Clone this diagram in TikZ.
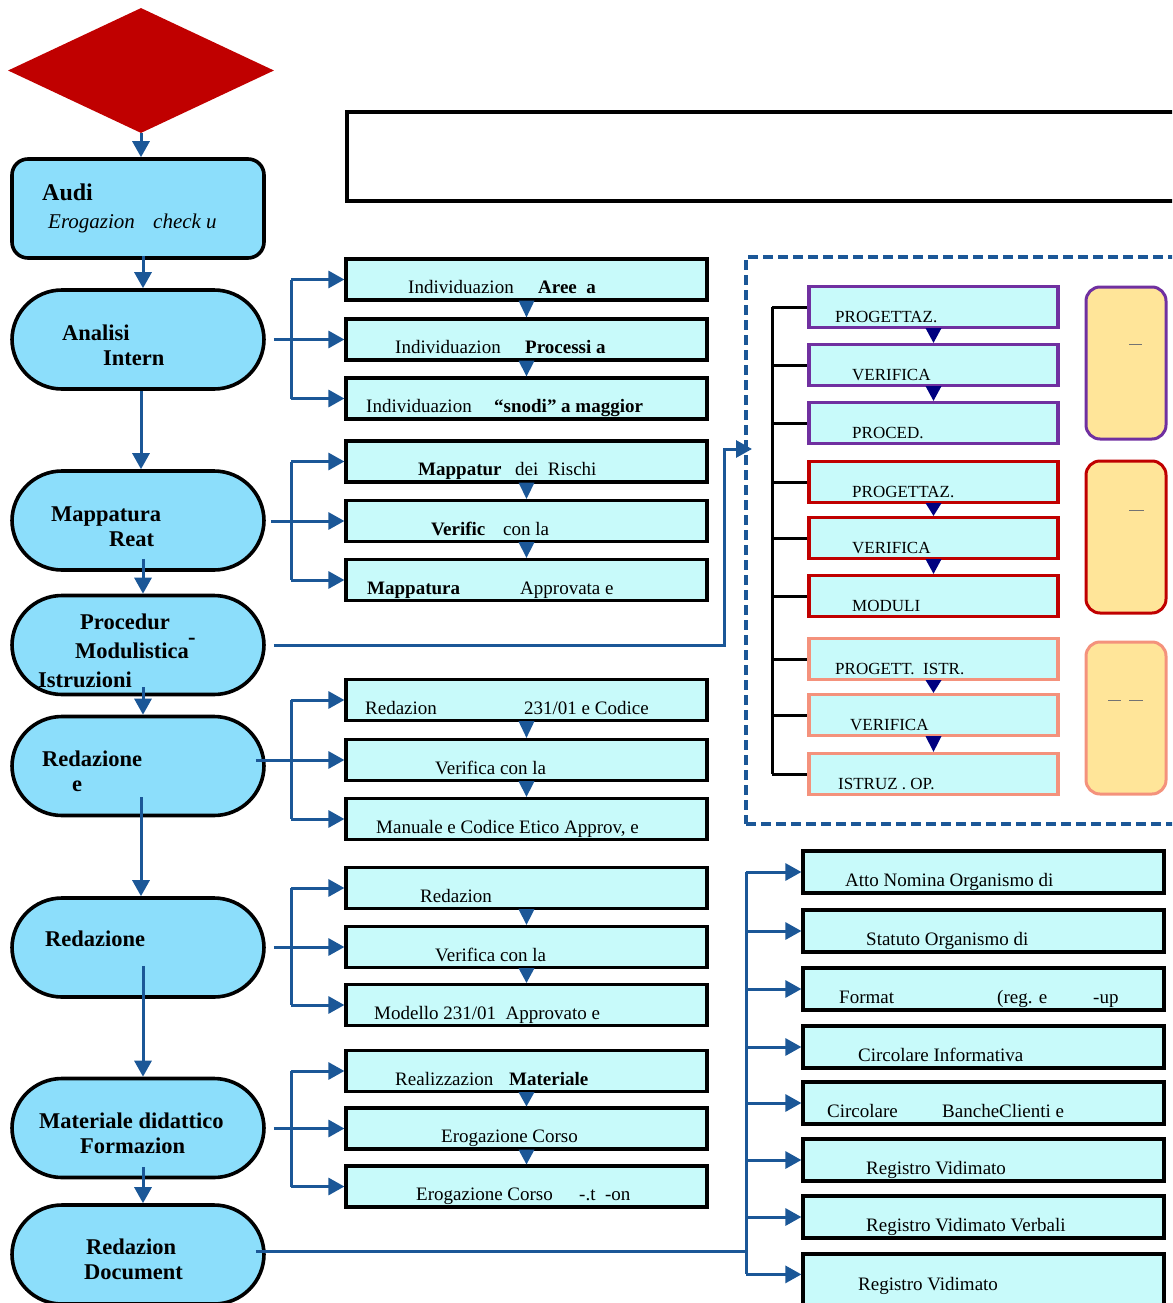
\documentclass[tikz,border=0pt]{standalone}
\usepackage{fontspec}
\setmainfont{Liberation Serif}
\usetikzlibrary{arrows.meta,positioning,calc,shapes.geometric}
\definecolor{ddRed}{HTML}{C00000}
\definecolor{ddSky}{HTML}{8CDEFB}
\definecolor{ddIce}{HTML}{C8FAFA}
\definecolor{ddBlue}{HTML}{1B5797}
\definecolor{ddNavy}{HTML}{000080}
\definecolor{ddPurple}{HTML}{7030A0}
\definecolor{ddSalmon}{HTML}{F4927C}
\definecolor{ddSand}{HTML}{FFE599}
\newcommand{\segbox}[2]{\makebox[#1][l]{#2}}
\tikzset{
  stage/.style    ={draw=black,line width=3.6pt,fill=ddSky,rounded corners=50pt,
                    minimum width=252pt,minimum height=99pt,inner sep=0pt},
  stagesq/.style  ={stage,rounded corners=16pt},
  midbox/.style   ={draw=black,line width=3.2pt,fill=ddIce,minimum width=361pt,
                    minimum height=41pt,inner sep=0pt},
  frbox/.style    ={midbox,draw=#1,minimum width=249pt},
  outbox/.style   ={midbox,minimum height=42pt},
  sandbox/.style  ={draw=#1,line width=3pt,fill=ddSand,rounded corners=14pt,
                    minimum width=80pt,minimum height=152pt,inner sep=0pt},
  frame/.style    ={draw=ddBlue,line width=4pt,dash pattern=on 10pt off 5pt},
  lbl/.style      ={anchor=base west,inner sep=0pt,font=\fontsize{19}{22}\selectfont},
  slbl/.style     ={lbl,font=\fontsize{17}{20}\selectfont},
  blbl/.style     ={lbl,font=\fontsize{22.5}{26}\selectfont\bfseries},
  flow/.style     ={-{Triangle[length=16pt,width=17pt]},ddBlue,line width=3pt},
  bus/.style      ={ddBlue,line width=3pt},
  drop/.style     ={fill=ddBlue},
  ndrop/.style    ={fill=ddNavy},
  tick/.style     ={black,line width=3pt},
  crumb/.style    ={black!55,line width=0.7pt},
}
\begin{document}
\begin{tikzpicture}[x=1pt,y=-1pt]
\useasboundingbox (0,0) rectangle (1172,1303);
\clip (0,0) rectangle (1172,1303);

% left column
\node[diamond,aspect=2.1,fill=ddRed,inner sep=0pt,minimum width=266pt,minimum height=125pt]
  (gate) at (141,70.5) {};
\node[stagesq] (audit)   at (138,208.5) {};
\node[stage]   (analisi) at (138,339.5) {};
\node[stage]   (mappa)   at (138,520.5) {};
\node[stage]   (proc)    at (138,645)   {};
\node[stage]   (redcod)  at (138,766)   {};
\node[stage]   (redmod)  at (138,947.5) {};
\node[stage]   (formaz)  at (138,1128)  {};
\node[stage]   (docum)   at (138,1254.5){};

\node[blbl,font=\fontsize{24}{28}\selectfont\bfseries] (auditA) at (42,200) {Audi};
\node[lbl,font=\fontsize{21}{24}\selectfont\itshape] (auditB) at (48,228)
  {\segbox{105pt}{Erogazion}check u};
\node[blbl] (analisiA) at (62,340)  {Analisi};
\node[blbl] (analisiB) at (103,365) {Intern};
\node[blbl] (mappaA)   at (51,521)  {Mappatura};
\node[blbl] (mappaB)   at (109,546) {Reat};
\node[blbl] (procA)    at (80,629)  {Procedur};
\node[blbl] (procB)    at (75,658)  {Modulistica};
\node[blbl] (procC)    at (188,644) {-};
\node[blbl] (procD)    at (38,687)  {Istruzioni};
\node[blbl] (redcodA)  at (42,766)  {Redazione};
\node[blbl] (redcodB)  at (72,791)  {e};
\node[blbl] (redmodA)  at (45,946)  {Redazione};
\node[blbl] (formazA)  at (39,1128) {Materiale didattico};
\node[blbl] (formazB)  at (80,1153) {Formazion};
\node[blbl] (documA)   at (86,1254) {Redazion};
\node[blbl] (documB)   at (84,1279) {Document};

\draw[flow] (gate.south) -- (audit.north -| gate.south);
\draw[flow] ($(audit.south)+(5,-4)$)   -- ($(analisi.north)+(5,0)$);
\draw[flow] ($(analisi.south)+(3,0)$)  -- ($(mappa.north)+(3,0)$);
\draw[flow] ($(mappa.south)+(5,-13)$)  -- ($(proc.north)+(5,0)$);
\draw[flow] ($(proc.south)+(5,-9)$)    -- ($(redcod.north)+(5,0)$);
\draw[flow] ($(redcod.south)+(3,-20)$) -- ($(redmod.north)+(3,0)$);
\draw[flow] ($(redmod.south)+(5,-33)$) -- ($(formaz.north)+(5,0)$);
\draw[flow] ($(formaz.south)+(5,-12)$) -- ($(docum.north)+(5,0)$);

% middle column
\foreach \n/\y in {i1/279.5,i2/339.5,i3/398.5,m1/461.5,m2/521,m3/580,
                   r1/700,r2/760,r3/819,d1/888,d2/947,d3/1005,
                   f1/1071,f2/1128.5,f3/1186.5}
  \node[midbox] (\n) at (526.5,\y) {};

\node[lbl] (i1t) at (408,293.5) {\segbox{130pt}{Individuazion}\textbf{Aree\ \ a}};
\node[lbl] (i2t) at (395,353.5) {\segbox{130pt}{Individuazion}\textbf{Processi a}};
\node[lbl] (i3t) at (366,412.5) {\segbox{128pt}{Individuazion}\textbf{“snodi” a maggior}};
\node[lbl] (m1t) at (418,475.5) {\segbox{97pt}{\textbf{Mappatur}}dei\ \ Rischi};
\node[lbl] (m2t) at (431,535)   {\segbox{72pt}{\textbf{Verific}}con la};
\node[lbl] (m3t) at (367,594)   {\segbox{153pt}{\textbf{Mappatura}}Approvata e};
\node[lbl] (r1t) at (365,714)   {\segbox{159pt}{Redazion}231/01 e Codice};
\node[lbl] (r2t) at (435,774)   {Verifica con la};
\node[lbl] (r3t) at (376,833)   {Manuale e Codice Etico Approv, e};
\node[lbl] (d1t) at (420,902)   {Redazion};
\node[lbl] (d2t) at (435,961)   {Verifica con la};
\node[lbl] (d3t) at (374,1019)  {Modello 231/01\ \ Approvato e};
\node[lbl] (f1t) at (395,1085)  {\segbox{114pt}{Realizzazion}\textbf{Materiale}};
\node[lbl] (f2t) at (441,1142.5){Erogazione Corso};
\node[lbl] (f3t) at (416,1200.5){\segbox{163pt}{Erogazione Corso}-.t\ \ -on};

\foreach \a/\b in {i1/i2,i2/i3,m1/m2,m2/m3,r1/r2,r2/r3,d1/d2,d2/d3,f1/f2,f2/f3}
  \fill[drop] ($(\a.south)+(-8,-1)$) -- ($(\a.south)+(8,-1)$) -- (\b.north) -- cycle;

% brackets from the stages
\foreach \s/\a/\b/\c/\o in {analisi/i1/i2/i3/8, mappa/m1/m2/m3/5, redcod/r1/r2/r3/-10,
                            redmod/d1/d2/d3/8, formaz/f1/f2/f3/8}{
  \draw[bus]  ($(\a.west)+(-53,0)$) -- ($(\c.west)+(-53,0)$);
  \draw[flow] ($(\a.west)+(-53,0)$) -- (\a.west);
  \draw[flow] ($(\c.west)+(-53,0)$) -- (\c.west);
  \draw[flow] ($(\s.east |- \b.west)+(\o,0)$) -- (\b.west);
}

% top empty box
\node[draw=black,line width=3.2pt,minimum width=850pt,minimum height=89pt,inner sep=0pt]
  (titlebox) at (772,156.5) {};

% dashed frame
\node[frame,minimum width=450pt,minimum height=567pt,inner sep=0pt] (frame) at (971,540.5) {};
\coordinate (procKnee) at (724,645);
\coordinate (frameIn)  at (752,449);
\draw[flow] ($(proc.east)+(8,0)$) -- (procKnee) |- (frameIn);

\foreach \n/\y/\c in {p1/307/ddPurple,p2/365/ddPurple,p3/423/ddPurple,
                      q1/482/ddRed,q2/538/ddRed,q3/596/ddRed,
                      s1/659/ddSalmon,s2/715/ddSalmon,s3/774/ddSalmon}
  \node[frbox=\c] (\n) at (933.5,\y) {};

\node[slbl] (p1t) at (835,322) {PROGETTAZ.};
\node[slbl] (p2t) at (852,380) {VERIFICA};
\node[slbl] (p3t) at (852,438) {PROCED.};
\node[slbl] (q1t) at (852,497) {PROGETTAZ.};
\node[slbl] (q2t) at (852,553) {VERIFICA};
\node[slbl] (q3t) at (852,611) {MODULI};
\node[slbl] (s1t) at (835,674) {PROGETT.\ \ ISTR.};
\node[slbl] (s2t) at (850,730) {VERIFICA};
\node[slbl] (s3t) at (838,789) {ISTRUZ . OP.};

\foreach \a/\b in {p1/p2,p2/p3,q1/q2,q2/q3,s1/s2,s2/s3}
  \fill[ndrop] ($(\a.south)+(-8,-1)$) -- ($(\a.south)+(8,-1)$) -- (\b.north) -- cycle;

\coordinate (spine) at (772,0);
\draw[tick] (spine |- p1.west) -- (spine |- s3.west);
\foreach \n in {p1,p2,p3,q1,q2,q3,s1,s2,s3}
  \draw[tick] (spine |- \n.west) -- (\n.west);

\node[sandbox=ddPurple] (tagP) at (1126,363) {};
\node[sandbox=ddRed]    (tagQ) at (1126,537) {};
\node[sandbox=ddSalmon] (tagS) at (1126,718) {};
\draw[crumb] ($(tagP.center)+(3,-19)$)  -- ++(13,0);
\draw[crumb] ($(tagQ.center)+(3,-27)$)  -- ++(15,0);
\draw[crumb] ($(tagS.center)+(-18,-18)$) -- ++(13,0);
\draw[crumb] ($(tagS.center)+(3,-18)$)  -- ++(14,0);

% right column
\foreach \n/\y in {a1/872,a2/931,a3/989,a4/1047,a5/1103,a6/1160,a7/1217}
  \node[outbox] (\n) at (983.5,\y) {};
\node[outbox,minimum height=70pt] (a8) at (983.5,1289) {};

\node[lbl] (a1t) at (845,886)  {Atto Nomina Organismo di};
\node[lbl] (a2t) at (866,945)  {Statuto Organismo di};
\node[lbl] (a3t) at (839,1003) {\segbox{158pt}{Format}\segbox{96pt}{(reg. e}-up};
\node[lbl] (a4t) at (858,1061) {Circolare Informativa};
\node[lbl] (a5t) at (827,1117) {\segbox{115pt}{Circolare}BancheClienti e};
\node[lbl] (a6t) at (866,1174) {Registro Vidimato};
\node[lbl] (a7t) at (866,1231) {Registro Vidimato Verbali};
\node[lbl] (a8t) at (858,1290) {Registro Vidimato};

\coordinate (busR) at (746,0);
\coordinate (a8in) at ($(a8.north west)+(0,22)$);
\draw[bus] (busR |- a1.west) -- (busR |- a8in);
\foreach \n in {a1,a2,a3,a4,a5,a6,a7}
  \draw[flow] (busR |- \n.west) -- (\n.west);
\draw[flow] (busR |- a8in) -- (a8in);
\draw[bus] ($(docum.east)+(-10,-3)$) -- ($(docum.east -| busR)+(0,-3)$);
\end{tikzpicture}
\end{document}
